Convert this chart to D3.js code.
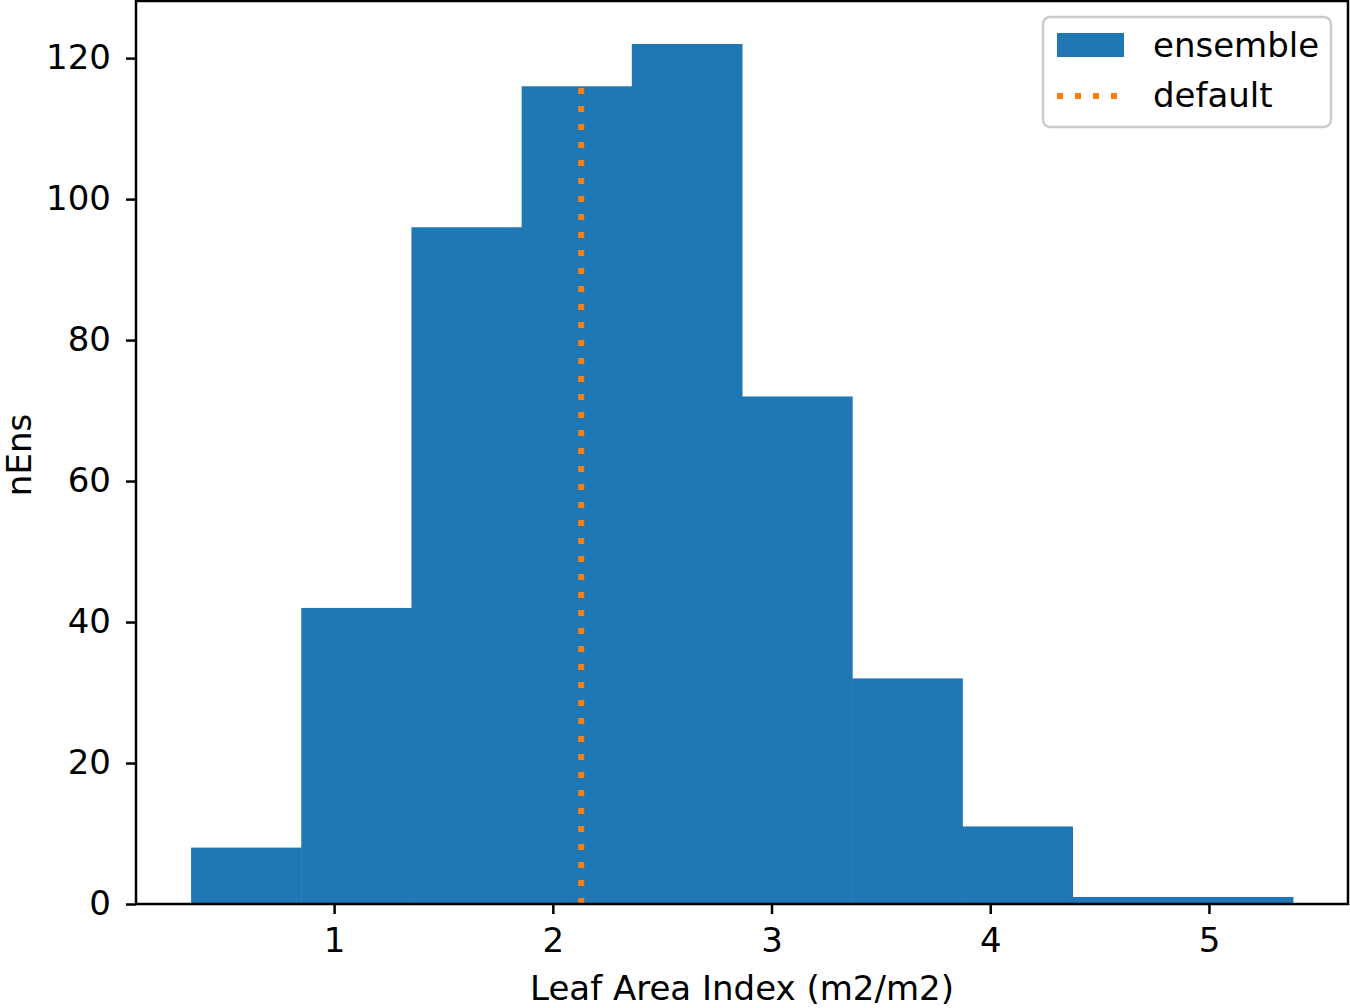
<!DOCTYPE html>
<html>
<head>
<meta charset="utf-8">
<script src="https://cdn.jsdelivr.net/npm/d3@7"></script>
<style>
  body { margin: 0; background: #fff; }
  svg { display: block; font-family: "DejaVu Sans", sans-serif; }
</style>
</head>
<body>
<div id="chart"></div>
<script>
// histogram of Leaf Area Index over the ensemble
var binStart = 0.346,
    binWidth = 0.5038;
var counts = [8, 42, 96, 116, 122, 72, 32, 11, 1, 1];
var defaultLAI = 2.13;
var xTicks = [1, 2, 3, 4, 5];
var yTicks = [0, 20, 40, 60, 80, 100, 120];

var width = 1350, height = 1008,
    margin = ({ top: 1, right: 2, bottom: 104, left: 136 });
var fs = 34;

var bins = counts.map((c, i) => ({ x0: binStart + i * binWidth, x1: binStart + (i + 1) * binWidth, n: c }));

var x = d3.scaleLinear()
    .domain([0.0942, 5.6358])
    .range([margin.left, width - margin.right]);

var y = d3.scaleLinear()
    .domain([0, d3.max(counts) * 1.05])
    .range([height - margin.bottom, margin.top]);

var svg = d3.select("#chart").append("svg")
    .attr("width", width)
    .attr("height", height);

svg.append("g")
    .attr("fill", "#1f77b4")
    .selectAll("rect")
    .data(bins)
    .join("rect")
    .attr("x", d => x(d.x0))
    .attr("width", d => x(d.x1) - x(d.x0) + 0.5)
    .attr("y", d => y(d.n))
    .attr("height", d => y(0) - y(d.n));

svg.append("line")
    .attr("x1", x(defaultLAI)).attr("x2", x(defaultLAI))
    .attr("y1", y(0)).attr("y2", y(counts[3]))
    .attr("stroke", "#ff7f0e")
    .attr("stroke-width", 6)
    .attr("stroke-dasharray", "6,12");

// axes
var xAxis = svg.append("g")
    .attr("transform", `translate(0,${y(0)})`)
    .call(d3.axisBottom(x).tickValues(xTicks).tickFormat(d3.format("d")).tickSize(10).tickPadding(14));
var yAxis = svg.append("g")
    .attr("transform", `translate(${margin.left},0)`)
    .call(d3.axisLeft(y).tickValues(yTicks).tickSize(10).tickPadding(15));

[xAxis, yAxis].forEach(g => {
  g.select(".domain").remove();
  g.selectAll(".tick line").attr("stroke", "#000").attr("stroke-width", 2.5);
  g.selectAll(".tick text").attr("font-size", fs).attr("font-family", "DejaVu Sans").attr("fill", "#000");
});

// frame
svg.append("rect")
    .attr("x", margin.left).attr("y", margin.top)
    .attr("width", width - margin.right - margin.left)
    .attr("height", y(0) - margin.top)
    .attr("fill", "none")
    .attr("stroke", "#000")
    .attr("stroke-width", 2.5);

svg.append("text")
    .attr("x", (margin.left + width - margin.right) / 2)
    .attr("y", 1000)
    .attr("text-anchor", "middle")
    .attr("font-size", fs)
    .text("Leaf Area Index (m2/m2)");

svg.append("text")
    .attr("transform", "translate(31,455) rotate(-90)")
    .attr("text-anchor", "middle")
    .attr("font-size", fs)
    .text("nEns");

// legend
var leg = svg.append("g");
leg.append("rect")
    .attr("x", 1043).attr("y", 17)
    .attr("width", 288).attr("height", 110)
    .attr("rx", 7)
    .attr("fill", "#fff").attr("fill-opacity", 0.8)
    .attr("stroke", "#ccc").attr("stroke-width", 2.5);
leg.append("rect")
    .attr("x", 1057).attr("y", 33)
    .attr("width", 67).attr("height", 24)
    .attr("fill", "#1f77b4");
leg.append("line")
    .attr("x1", 1057).attr("x2", 1124)
    .attr("y1", 96).attr("y2", 96)
    .attr("stroke", "#ff7f0e")
    .attr("stroke-width", 6)
    .attr("stroke-dasharray", "6,12");
leg.append("text").attr("x", 1153).attr("y", 57).attr("font-size", fs).text("ensemble");
leg.append("text").attr("x", 1153).attr("y", 107).attr("font-size", fs).text("default");
</script>
</body>
</html>
